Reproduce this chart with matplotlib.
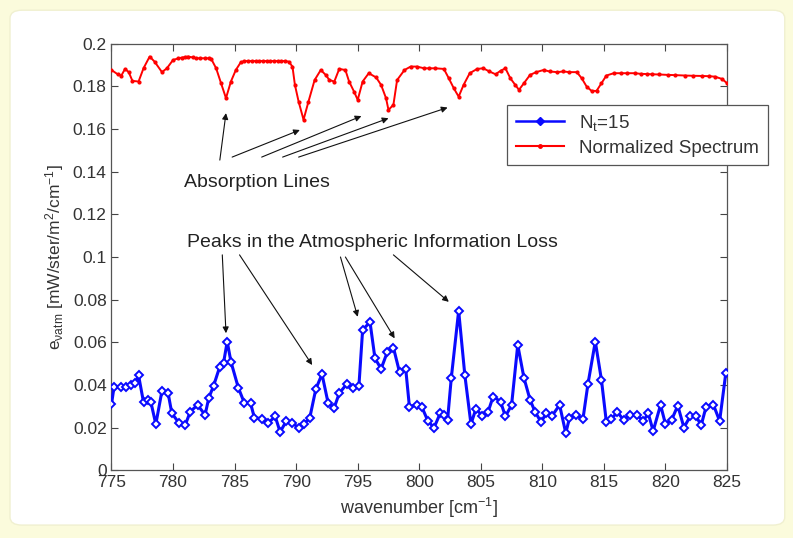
import matplotlib
matplotlib.use('Agg')
import matplotlib.pyplot as plt
from matplotlib.lines import Line2D
from matplotlib.patches import FancyBboxPatch
from matplotlib.ticker import FuncFormatter

plt.rcParams['font.family'] = ['Liberation Sans', 'DejaVu Sans']
plt.rcParams['mathtext.default'] = 'regular'

# blue curve: information loss, N_t = 15
blue_wn = [775.0, 775.2, 775.8, 776.2, 776.6, 776.9, 777.2, 777.6, 778.0, 778.2,
           778.6, 779.1, 779.6, 779.9, 780.5, 781.0, 781.4, 782.0, 782.6, 782.9,
           783.3, 783.8, 784.1, 784.4, 784.7, 785.3, 785.8, 786.3, 786.6, 787.2,
           787.7, 788.3, 788.7, 789.2, 789.7, 790.2, 790.6, 791.1, 791.6, 792.1,
           792.6, 793.1, 793.5, 794.1, 794.6, 795.1, 795.4, 796.0, 796.4, 796.9,
           797.4, 797.9, 798.4, 798.9, 799.2, 799.8, 800.2, 800.7, 801.2, 801.7,
           802.0, 802.3, 802.6, 803.2, 803.7, 804.2, 804.6, 805.1, 805.6, 806.0,
           806.6, 807.0, 807.5, 808.0, 808.5, 809.0, 809.4, 809.9, 810.3, 810.8,
           811.4, 811.9, 812.2, 812.7, 813.3, 813.7, 814.3, 814.8, 815.2, 815.6,
           816.1, 816.6, 817.1, 817.7, 818.2, 818.6, 819.0, 819.6, 820.0, 820.5,
           821.0, 821.5, 822.0, 822.5, 822.9, 823.3, 823.9, 824.4, 824.9]
blue_val = [0.0310, 0.0389, 0.0393, 0.0393, 0.0401, 0.0409, 0.0445, 0.0320, 0.0331, 0.0320,
            0.0217, 0.0373, 0.0362, 0.0268, 0.0221, 0.0214, 0.0276, 0.0307, 0.0260, 0.0339,
            0.0398, 0.0487, 0.0503, 0.0604, 0.0510, 0.0388, 0.0315, 0.0315, 0.0248, 0.0242,
            0.0221, 0.0253, 0.0180, 0.0232, 0.0221, 0.0201, 0.0217, 0.0245, 0.0382, 0.0451,
            0.0315, 0.0295, 0.0362, 0.0404, 0.0385, 0.0398, 0.0659, 0.0695, 0.0526, 0.0476,
            0.0554, 0.0576, 0.0460, 0.0476, 0.0299, 0.0307, 0.0299, 0.0232, 0.0200, 0.0268,
            0.0260, 0.0237, 0.0432, 0.0748, 0.0448, 0.0217, 0.0289, 0.0257, 0.0276, 0.0346,
            0.0323, 0.0253, 0.0307, 0.0588, 0.0435, 0.0331, 0.0276, 0.0226, 0.0268, 0.0257,
            0.0307, 0.0175, 0.0245, 0.0260, 0.0242, 0.0404, 0.0604, 0.0424, 0.0226, 0.0242,
            0.0273, 0.0237, 0.0260, 0.0260, 0.0232, 0.0268, 0.0185, 0.0307, 0.0217, 0.0237,
            0.0304, 0.0201, 0.0253, 0.0253, 0.0211, 0.0299, 0.0307, 0.0232, 0.0456]

# red curve: normalized spectrum
red_wn = [775.0, 775.5, 775.8, 776.1, 776.4, 776.7, 777.2, 777.6, 778.1, 778.5,
          779.1, 779.5, 780.0, 780.4, 780.7, 781.0, 781.2, 781.6, 781.9, 782.2,
          782.6, 782.9, 783.1, 783.5, 783.9, 784.3, 784.7, 785.1, 785.5, 785.8,
          786.1, 786.4, 786.7, 787.0, 787.3, 787.6, 787.9, 788.2, 788.5, 788.8,
          789.1, 789.4, 789.7, 789.9, 790.2, 790.6, 791.0, 791.5, 792.0, 792.4,
          792.7, 793.1, 793.5, 794.0, 794.3, 794.7, 795.0, 795.4, 795.9, 796.5,
          796.9, 797.3, 797.5, 797.9, 798.2, 798.8, 799.3, 799.8, 800.4, 800.8,
          801.3, 802.0, 802.4, 802.8, 803.2, 803.6, 804.1, 804.7, 805.2, 805.7,
          806.2, 806.6, 807.0, 807.4, 807.8, 808.1, 808.5, 809.0, 809.5, 810.1,
          810.6, 811.2, 811.7, 812.2, 812.8, 813.2, 813.6, 814.0, 814.4, 814.8,
          815.2, 815.8, 816.4, 816.9, 817.5, 818.0, 818.5, 818.9, 819.5, 820.2,
          820.8, 821.6, 822.2, 823.0, 823.5, 824.0, 824.6, 825.0]
red_val = [0.1876, 0.1856, 0.1850, 0.1881, 0.1866, 0.1825, 0.1822, 0.1884, 0.1939, 0.1915,
           0.1866, 0.1884, 0.1923, 0.1930, 0.1934, 0.1937, 0.1939, 0.1935, 0.1931, 0.1931,
           0.1931, 0.1931, 0.1928, 0.1884, 0.1814, 0.1744, 0.1822, 0.1876, 0.1912, 0.1918,
           0.1918, 0.1918, 0.1918, 0.1918, 0.1918, 0.1918, 0.1918, 0.1918, 0.1918, 0.1918,
           0.1918, 0.1915, 0.1892, 0.1806, 0.1728, 0.1643, 0.1728, 0.1829, 0.1876, 0.1853,
           0.1829, 0.1822, 0.1881, 0.1876, 0.1822, 0.1775, 0.1736, 0.1822, 0.1861, 0.1841,
           0.1806, 0.1744, 0.1689, 0.1713, 0.1829, 0.1876, 0.1892, 0.1892, 0.1884, 0.1884,
           0.1884, 0.1881, 0.1837, 0.1791, 0.1751, 0.1806, 0.1861, 0.1881, 0.1884, 0.1869,
           0.1856, 0.1872, 0.1884, 0.1837, 0.1806, 0.1783, 0.1814, 0.1853, 0.1866, 0.1876,
           0.1869, 0.1866, 0.1869, 0.1866, 0.1866, 0.1837, 0.1798, 0.1778, 0.1778, 0.1814,
           0.1850, 0.1861, 0.1861, 0.1861, 0.1861, 0.1858, 0.1857, 0.1856, 0.1855, 0.1853,
           0.1852, 0.1850, 0.1849, 0.1848, 0.1847, 0.1845, 0.1834, 0.1814]

x_ticks = [775, 780, 785, 790, 795, 800, 805, 810, 815, 820, 825]
y_ticks = [0, 0.02, 0.04, 0.06, 0.08, 0.1, 0.12, 0.14, 0.16, 0.18, 0.2]

# arrows: (tail, tip) in data coords
absorb_arrows = [((783.8, 0.1454), (784.3, 0.1674)),
                 ((784.8, 0.1468), (790.3, 0.1595)),
                 ((787.2, 0.1468), (795.3, 0.1660)),
                 ((788.9, 0.1468), (797.5, 0.1650)),
                 ((790.2, 0.1468), (802.3, 0.1700))]
peak_arrows = [((784.0, 0.1010), (784.3, 0.0643)),
               ((785.4, 0.1010), (791.3, 0.0494)),
               ((793.6, 0.1000), (795.0, 0.0720)),
               ((794.0, 0.1000), (798.0, 0.0619)),
               ((797.9, 0.1010), (802.4, 0.0790))]

fig = plt.figure(figsize=(7.93, 5.38), dpi=100, facecolor='#fbfbdc')
panel = FancyBboxPatch((0.0126, 0.024), 0.977, 0.957,
                       boxstyle='round,pad=0,rounding_size=0.015',
                       transform=fig.transFigure, fc='white', ec='#f0f0d0', zorder=-5)
fig.patches.append(panel)

ax = fig.add_axes([0.1406, 0.1255, 0.7762, 0.7936])
ax.set_zorder(1)

ax.plot(blue_wn, blue_val, color='#0a0aff', lw=2.2, marker='D', ms=4.5,
        mfc='white', mec='#0a0aff', mew=1.4, zorder=3)
ax.plot(red_wn, red_val, color='#ff0000', lw=1.4, marker='.', ms=4, zorder=3)

ax.set_xlim(775, 825)
ax.set_ylim(0, 0.2)
ax.set_xticks(x_ticks)
ax.set_yticks(y_ticks)
ax.yaxis.set_major_formatter(FuncFormatter(lambda v, p: '%g' % round(v, 3)))
ax.tick_params(direction='in', top=True, right=True, length=5, width=0.8,
               colors='#444444', labelsize=12.5, labelcolor='#333333')
for s in ax.spines.values():
    s.set_color('#555555')
    s.set_linewidth(0.9)

ax.set_xlabel('wavenumber [cm$^{-1}$]', fontsize=13, color='#333333', labelpad=4)
ax.set_ylabel(r'e$_{\nu atm}$ [mW/ster/m$^2$/cm$^{-1}$]', fontsize=12.5,
              color='#333333', labelpad=5)

arrow_props = dict(arrowstyle='-|>', color='#111111', lw=0.8, mutation_scale=9,
                   shrinkA=0, shrinkB=0)
for tail, tip in absorb_arrows + peak_arrows:
    ax.annotate('', xy=tip, xytext=tail, arrowprops=arrow_props, annotation_clip=False)

ax.text(786.8, 0.1347, 'Absorption Lines', fontsize=14, color='#222222',
        ha='center', va='center')
ax.text(796.2, 0.1070, 'Peaks in the Atmospheric Information Loss', fontsize=14,
        color='#222222', ha='center', va='center')

handles = [Line2D([], [], color='#0a0aff', lw=1.8, marker='D', ms=4),
           Line2D([], [], color='#ff0000', lw=1.5, marker='.', ms=5)]
leg = ax.legend(handles, ['N$_t$=15', 'Normalized Spectrum'], loc='upper left',
                bbox_to_anchor=(0.643, 0.857), borderaxespad=0, fontsize=13.5,
                fancybox=False, framealpha=1, edgecolor='#555555',
                handlelength=2.6, borderpad=0.45, labelspacing=0.35)
leg.get_frame().set_linewidth(0.9)
for t in leg.get_texts():
    t.set_color('#333333')

fig.savefig('out.png', dpi=100, facecolor=fig.get_facecolor())
